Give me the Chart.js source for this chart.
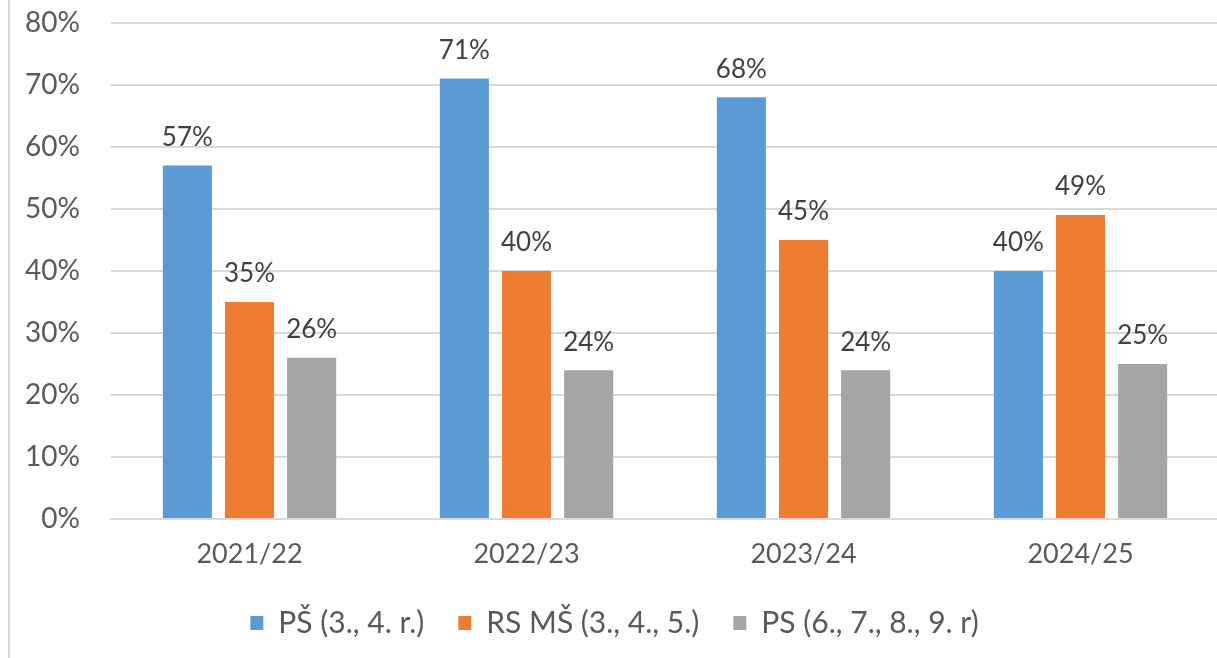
<!DOCTYPE html>
<html>
<head>
<meta charset="utf-8">
<script src="https://cdn.jsdelivr.net/npm/chart.js@4.4.1/dist/chart.umd.min.js"></script>
<style>
  html, body { margin: 0; padding: 0; background: #fff; }
  #wrap {
    position: absolute; left: 8px; top: 0;
    width: 1209px; height: 658px;
    border-left: 2px solid #d9d9d9;
  }
</style>
</head>
<body>
<div id="wrap"><canvas id="chart"></canvas></div>
<script>
const years = ["2021/22", "2022/23", "2023/24", "2024/25"];
const psValues = [57, 71, 68, 40];
const rsmsValues = [35, 40, 45, 49];
const psHighValues = [26, 24, 24, 25];
const seriesNames = ["PŠ (3., 4. r.)", "RS MŠ (3., 4., 5.)", "PS (6., 7., 8., 9. r)"];

const FONT = "Lato, 'Open Sans', sans-serif";

// Draw the value above each bar
const barLabels = {
  id: "barLabels",
  afterDatasetsDraw(chart) {
    const ctx = chart.ctx;
    ctx.save();
    ctx.font = `26px ${FONT}`;
    ctx.fillStyle = "#404040";
    ctx.textAlign = "center";
    ctx.textBaseline = "bottom";
    chart.data.datasets.forEach((ds, i) => {
      chart.getDatasetMeta(i).data.forEach((bar, j) => {
        ctx.fillText(ds.data[j] + "%", bar.x, bar.y - 15);
      });
    });
    ctx.restore();
  },
};

function displayChart() {
  const ctx = document.getElementById("chart").getContext("2d");
  const common = { categoryPercentage: 0.673, barPercentage: 0.79 };

  new Chart(ctx, {
    type: "bar",
    data: {
      labels: years,
      datasets: [
        { label: seriesNames[0], data: psValues, backgroundColor: "#5b9bd5", ...common },
        { label: seriesNames[1], data: rsmsValues, backgroundColor: "#ed7d31", ...common },
        { label: seriesNames[2], data: psHighValues, backgroundColor: "#a5a5a5", ...common },
      ],
    },
    options: {
      responsive: true,
      maintainAspectRatio: false,
      animation: false,
      layout: { padding: { top: 19, right: 0, bottom: 10, left: 0 } },
      plugins: {
        legend: {
          display: true,
          position: "bottom",
          labels: {
            boxWidth: 13,
            boxHeight: 14,
            padding: 34,
            color: "#595959",
            font: { family: FONT, size: 30 },
          },
        },
        tooltip: { enabled: false },
      },
      scales: {
        x: {
          grid: { display: false },
          border: { color: "#d9d9d9", width: 2 },
          ticks: { color: "#595959", font: { family: FONT, size: 27 }, padding: 11 },
          afterFit: (scale) => { scale.height = 55; },
        },
        y: {
          min: 0,
          max: 80,
          ticks: {
            stepSize: 10,
            color: "#595959",
            font: { family: FONT, size: 28 },
            padding: 6,
            callback: (v) => v + "%",
          },
          grid: { color: "#d9d9d9", lineWidth: 2, drawTicks: true, tickLength: 25, tickColor: "transparent" },
          border: { display: false },
          afterFit: (scale) => { scale.width = 101; },
        },
      },
    },
    plugins: [barLabels],
  });
}

document.addEventListener("DOMContentLoaded", displayChart);
</script>
</body>
</html>
